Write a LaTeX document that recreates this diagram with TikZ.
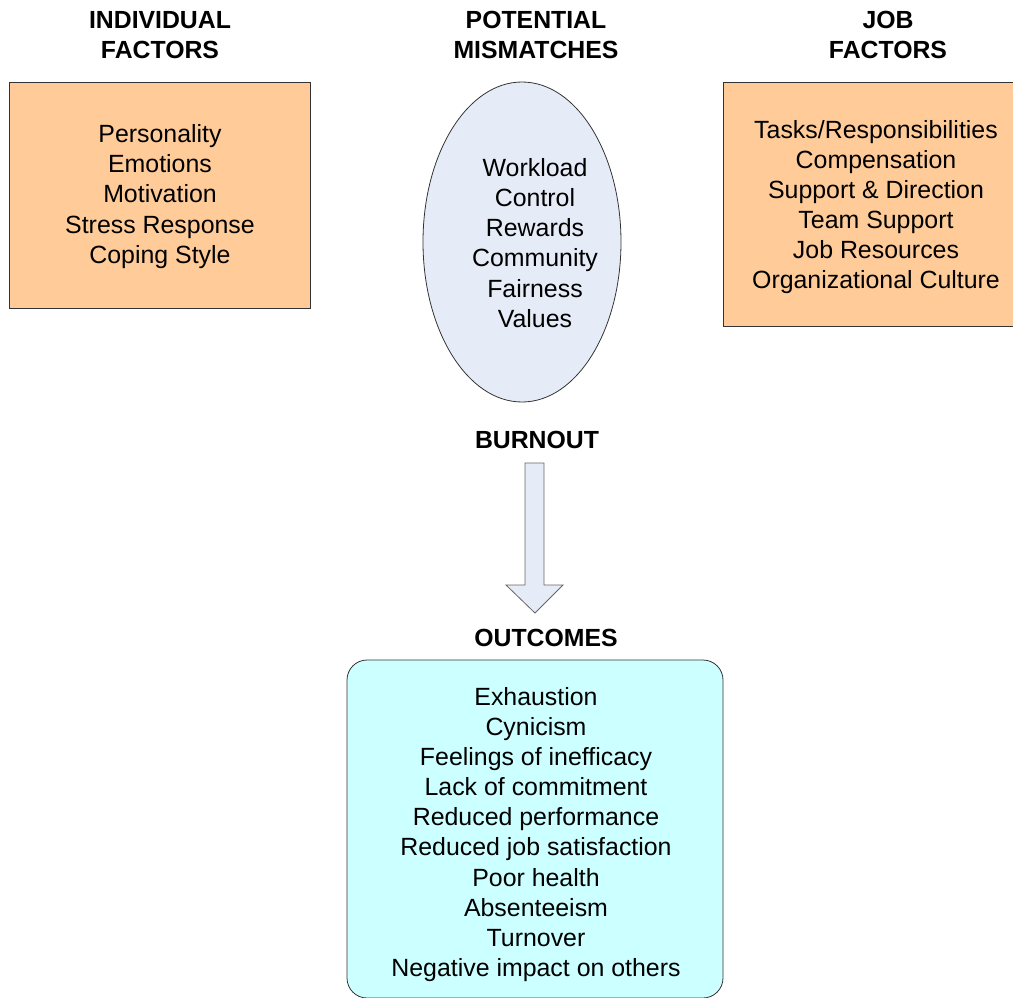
\documentclass[tikz,border=0pt]{standalone}
\usepackage{fontspec}
\setmainfont{Liberation Sans}
\usetikzlibrary{shapes.geometric}
\definecolor{orangefill}{HTML}{FFCC99}
\definecolor{ellfill}{HTML}{E6ECF7}
\definecolor{cyanfill}{HTML}{CCFFFF}
\definecolor{edge}{HTML}{333333}
\begin{document}
\begin{tikzpicture}[x=1pt,y=-1pt,
  txt/.style={align=center,inner sep=0pt,font=\fontsize{24.9}{30.1}\selectfont},
  hdr/.style={align=center,inner sep=0pt,font=\fontsize{24.8}{30}\selectfont\bfseries},
  shapebox/.style={draw=edge,line width=0.8pt}]
\useasboundingbox (0,0) rectangle (1013,998);
% headers
\node[hdr] (h1) at (160,35) {INDIVIDUAL\\FACTORS};
\node[hdr] (h2) at (536,35) {POTENTIAL\\MISMATCHES};
\node[hdr] (h3) at (888,35) {JOB\\FACTORS};
% shapes
\filldraw[shapebox,fill=orangefill] (9,82) rectangle (310,308);
\filldraw[shapebox,fill=orangefill] (723,82) rectangle (1013,326);
\filldraw[shapebox,fill=ellfill] (522,242) ellipse [x radius=99, y radius=160];
\filldraw[shapebox,fill=cyanfill,rounded corners=20pt] (347,660) rectangle (723,998);
% texts
\node[txt] (ind) at (160,196.5) {Personality\\Emotions\\Motivation\\Stress Response\\Coping Style};
\node[txt] (mis) at (535,243) {Workload\\Control\\Rewards\\Community\\Fairness\\Values};
\node[txt] (job) at (876,207) {Tasks/Responsibilities\\Compensation\\Support \& Direction\\Team Support\\Job Resources\\Organizational Culture};
\node[hdr] (burn) at (537,440) {BURNOUT};
\node[hdr] (outc) at (546,638) {OUTCOMES};
\node[txt] (out) at (536,834.5) {Exhaustion\\Cynicism\\Feelings of inefficacy\\Lack of commitment\\Reduced performance\\Reduced job satisfaction\\Poor health\\Absenteeism\\Turnover\\Negative impact on others};
% block arrow
\filldraw[draw=gray!80!black,line width=0.8pt,fill=ellfill]
  (525,463) -- (544,463) -- (544,585) -- (563,585) -- (535,613) -- (506,585) -- (525,585) -- cycle;
\end{tikzpicture}
\end{document}
